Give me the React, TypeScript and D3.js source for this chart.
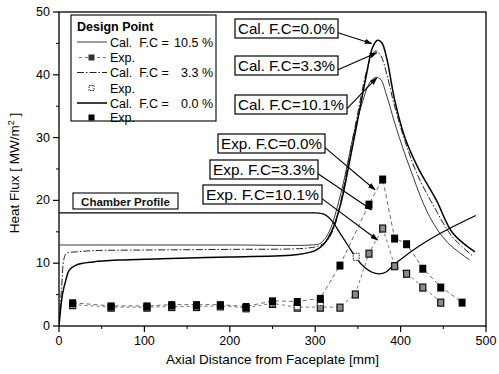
import React from "react";
import * as d3 from "d3";

// ---- data ----
const xTickValues = [0, 100, 200, 300, 400, 500];
const yTickValues = [0, 10, 20, 30, 40, 50];

// chamber contour (scaled to the heat-flux axis)
const profileX = [0, 300, 308, 315, 321, 329, 338, 348, 358, 366, 375, 383, 391, 400, 488];
const profileY = [18, 18, 17.9, 17.4, 16.5, 14.8, 12.9, 10.8, 9.3, 8.6, 8.3, 8.6, 9.6, 10.6, 17.6];

// calculated heat flux, F.C = 10.5 %
const cal105X = [0, 100, 200, 295, 305, 312, 318, 325, 335, 345, 355, 364, 371, 377, 383, 395, 410, 434, 455, 481];
const cal105Y = [12.9, 12.9, 12.9, 12.9, 13.1, 14.0, 15.5, 18.5, 24, 30.5, 35.5, 38.8, 39.6, 39.2, 37, 31.5, 25.5, 17.4, 13.3, 10.5];

// calculated heat flux, F.C = 3.3 %
const cal33X = [0, 3, 6, 9, 20, 40, 100, 200, 290, 305, 315, 323, 331, 340, 350, 359, 366, 371, 377, 384, 392, 405, 420, 440, 460, 484];
const cal33Y = [0.5, 6, 10.8, 11.6, 11.8, 12.0, 12.1, 12.2, 12.4, 12.8, 13.8, 16.0, 20.5, 27, 34, 40, 43, 43.8, 43, 40, 35.5, 29.5, 24, 18.8, 14.3, 11.2];

// calculated heat flux, F.C = 0.0 %
const cal00X = [0, 4, 8, 12, 20, 40, 70, 120, 200, 280, 300, 310, 320, 330, 340, 350, 360, 367, 373, 378, 384, 393, 405, 420, 442, 461, 487];
const cal00Y = [0, 5, 7.3, 8.9, 9.7, 10.2, 10.5, 10.7, 11.0, 11.4, 12.0, 13.0, 15.3, 19.5, 26, 33, 40, 44.3, 45.5, 45.1, 42.5, 36, 30, 25.3, 20, 14.8, 11.8];

// measured heat flux
const exp00X = [16, 61, 103, 132, 161, 189, 219, 250, 279, 306, 329, 363, 379, 393, 407, 426, 447, 472];
const exp00Y = [3.7, 3.2, 3.2, 3.4, 3.4, 3.4, 3.1, 4.0, 3.9, 4.4, 9.7, 19.4, 23.4, 14.0, 13.1, 9.2, 6.2, 3.8];

const exp105X = [16, 61, 103, 132, 161, 189, 219, 250, 279, 306, 329, 347, 363, 379, 393, 407, 426, 447];
const exp105Y = [3.4, 3.0, 3.0, 3.1, 3.1, 3.2, 2.9, 3.6, 3.0, 3.0, 3.0, 5.1, 11.6, 15.6, 9.6, 8.4, 6.2, 3.8];

const exp33X = [16, 61, 103, 132, 161, 189, 219, 250, 279, 306, 348];
const exp33Y = [3.5, 3.1, 3.1, 3.3, 3.3, 3.3, 3.0, 3.8, 3.3, 3.9, 11.1];

// callouts: text and the (mm, MW/m2) point the arrow points to
const calloutText = ["Cal. F.C=0.0%", "Cal. F.C=3.3%", "Cal. F.C=10.1%", "Exp. F.C=0.0%", "Exp. F.C=3.3%", "Exp. F.C=10.1%"];
const calloutTargetX = [366, 372, 372, 370, 366, 373];
const calloutTargetY = [45.0, 43.5, 39.5, 21.7, 18.5, 13.7];

const legendLabels = ["Cal.  F.C =", "Exp.", "Cal.  F.C =", "Exp.", "Cal.  F.C =", "Exp."];
const legendValues = ["10.5 %", "", "3.3 %", "", "0.0 %", ""];

// ---- layout ----
const W = 499;
const H = 374;
const plot = { left: 59, right: 486, top: 12, bottom: 326 };
const FONT = "'Liberation Sans', Arial, Helvetica, sans-serif";

// box geometry of each callout: left, top, width, height (pixels)
const calloutBoxes = [
  [235, 19, 103, 19],
  [235, 56, 103, 19],
  [235, 95, 112, 19],
  [218, 134, 107, 19],
  [210, 160, 108, 19],
  [203, 185, 119, 19],
];

const toPts = (xs: number[], ys: number[]) => xs.map((v, i) => [v, ys[i]] as [number, number]);

export default function App() {
  const x = d3.scaleLinear().domain([0, 500]).range([plot.left, plot.right]);
  const y = d3.scaleLinear().domain([0, 50]).range([plot.bottom, plot.top]);

  const smooth = d3
    .line<[number, number]>()
    .x((d) => x(d[0]))
    .y((d) => y(d[1]))
    .curve(d3.curveCatmullRom.alpha(0.5));
  const mono = d3
    .line<[number, number]>()
    .x((d) => x(d[0]))
    .y((d) => y(d[1]))
    .curve(d3.curveMonotoneX);
  const straight = d3
    .line<[number, number]>()
    .x((d) => x(d[0]))
    .y((d) => y(d[1]));

  const xMinor = d3.range(50, 500, 100);
  const yMinor = d3.range(5, 50, 10);

  const legendRows = [42, 57.5, 72.5, 88, 103, 117.5];

  const sq = (cx: number, cy: number, s: number, props: any, key: string) => (
    <rect key={key} x={cx - s / 2} y={cy - s / 2} width={s} height={s + 1} {...props} />
  );

  return (
    <svg
      width={W}
      height={H}
      style={{ position: "absolute", left: 0, top: 0, background: "#fff" }}
      fontFamily={FONT}
    >
      <defs>
        <marker id="arrowHead" viewBox="0 0 10 10" refX="9" refY="5" markerWidth="7" markerHeight="7" orient="auto">
          <path d="M0,1.5 L10,5 L0,8.5 Z" fill="#000" />
        </marker>
        <clipPath id="plotClip">
          <rect x={plot.left} y={plot.top} width={plot.right - plot.left} height={plot.bottom - plot.top} />
        </clipPath>
      </defs>

      {/* frame */}
      <rect
        x={plot.left}
        y={plot.top}
        width={plot.right - plot.left}
        height={plot.bottom - plot.top}
        fill="none"
        stroke="#000"
        strokeWidth={1.3}
      />

      {/* x ticks */}
      {xTickValues.map((t) => (
        <g key={"xt" + t}>
          <line x1={x(t)} x2={x(t)} y1={plot.bottom} y2={plot.bottom + 6} stroke="#000" strokeWidth={1.2} />
          <text x={x(t)} y={plot.bottom + 19} fontSize={12.5} textAnchor="middle">
            {t}
          </text>
        </g>
      ))}
      {xMinor.map((t) => (
        <line key={"xm" + t} x1={x(t)} x2={x(t)} y1={plot.bottom} y2={plot.bottom + 3} stroke="#000" strokeWidth={1} />
      ))}

      {/* y ticks */}
      {yTickValues.map((t) => (
        <g key={"yt" + t}>
          <line x1={plot.left - 6} x2={plot.left} y1={y(t)} y2={y(t)} stroke="#000" strokeWidth={1.2} />
          <text x={plot.left - 9} y={y(t) + 4} fontSize={12.5} textAnchor="end">
            {t}
          </text>
        </g>
      ))}
      {yMinor.map((t) => (
        <line key={"ym" + t} x1={plot.left - 3} x2={plot.left} y1={y(t)} y2={y(t)} stroke="#000" strokeWidth={1} />
      ))}

      {/* axis titles */}
      <text x={(plot.left + plot.right) / 2} y={364} fontSize={13.5} textAnchor="middle">
        Axial Distance from Faceplate [mm]
      </text>
      <text transform={`translate(19,${(plot.top + plot.bottom) / 2 + 4}) rotate(-90)`} fontSize={13.5} textAnchor="middle">
        Heat Flux [ MW/m
        <tspan dy={-5} fontSize={9}>
          2
        </tspan>
        <tspan dy={5}> ]</tspan>
      </text>

      <g clipPath="url(#plotClip)">
        {/* chamber contour */}
        <path d={mono(toPts(profileX, profileY)) || ""} fill="none" stroke="#000" strokeWidth={1.3} />

        {/* calculated curves */}
        <path d={smooth(toPts(cal105X, cal105Y)) || ""} fill="none" stroke="#222" strokeWidth={0.9} />
        <path
          d={smooth(toPts(cal33X, cal33Y)) || ""}
          fill="none"
          stroke="#222"
          strokeWidth={1}
          strokeDasharray="7,2,1.5,2"
        />
        <path d={smooth(toPts(cal00X, cal00Y)) || ""} fill="none" stroke="#000" strokeWidth={1.5} />

        {/* measured series connections */}
        <path
          d={straight(toPts(exp105X, exp105Y)) || ""}
          fill="none"
          stroke="#555"
          strokeWidth={0.8}
          strokeDasharray="3,3"
        />
        <path
          d={straight(toPts(exp00X, exp00Y)) || ""}
          fill="none"
          stroke="#444"
          strokeWidth={0.8}
          strokeDasharray="4,3"
        />

        {/* measured points */}
        {exp105X.map((v, i) =>
          sq(x(v), y(exp105Y[i]), 6, { fill: "#8a8a8a", stroke: "#111", strokeWidth: 1.2 }, "e105" + i)
        )}
        {exp33X.map((v, i) =>
          sq(x(v), y(exp33Y[i]), 6, { fill: "#fff", stroke: "#222", strokeWidth: 1, strokeDasharray: "1.5,1" }, "e33" + i)
        )}
        {exp00X.map((v, i) => sq(x(v), y(exp00Y[i]), 7, { fill: "#000" }, "e00" + i))}
      </g>

      {/* callouts */}
      {calloutText.map((t, i) => {
        const [bx, by, bw, bh] = calloutBoxes[i];
        const tx = x(calloutTargetX[i]);
        const ty = y(calloutTargetY[i]);
        const sx = bx + bw;
        const sy = by + bh * 0.72;
        return (
          <g key={"co" + i}>
            <line x1={sx} y1={sy} x2={tx} y2={ty} stroke="#000" strokeWidth={1.1} markerEnd="url(#arrowHead)" />
            <rect x={bx} y={by} width={bw} height={bh} fill="#fff" stroke="#000" strokeWidth={1.2} />
            <text x={bx + bw / 2} y={by + bh - 4} fontSize={15} textAnchor="middle" textLength={bw - 6} lengthAdjust="spacingAndGlyphs">
              {t}
            </text>
          </g>
        );
      })}

      {/* contour label */}
      <rect x={73} y={193} width={105} height={16} fill="#fff" stroke="#000" strokeWidth={1.1} />
      <text x={125.5} y={205.5} fontSize={11.5} fontWeight="bold" textAnchor="middle" fill="#111">
        Chamber Profile
      </text>

      {/* legend */}
      <rect x={71} y={15} width={145} height={106} fill="#fff" stroke="#000" strokeWidth={1.1} />
      <text x={77} y={31} fontSize={12.5} fontWeight="bold">
        Design Point
      </text>
      {legendRows.map((ry, i) => (
        <g key={"lg" + i}>
          <text x={110} y={ry + 4.5} fontSize={12.5} style={{ whiteSpace: "pre" }}>
            {legendLabels[i]}
          </text>
          {legendValues[i] && (
            <text x={213} y={ry + 4.5} fontSize={12.5} textAnchor="end">
              {legendValues[i]}
            </text>
          )}
        </g>
      ))}
      {/* legend samples */}
      <line x1={77} x2={107} y1={legendRows[0]} y2={legendRows[0]} stroke="#222" strokeWidth={0.9} />
      <line x1={79} x2={106} y1={legendRows[1]} y2={legendRows[1]} stroke="#555" strokeWidth={0.8} strokeDasharray="3,3" />
      <rect x={88.5} y={legendRows[1] - 3} width={6} height={6} fill="#333" />
      <line
        x1={77}
        x2={107}
        y1={legendRows[2]}
        y2={legendRows[2]}
        stroke="#222"
        strokeWidth={1}
        strokeDasharray="7,2,1.5,2"
      />
      <rect
        x={89}
        y={legendRows[3] - 2.5}
        width={5}
        height={5}
        fill="#fff"
        stroke="#222"
        strokeWidth={1}
        strokeDasharray="1.5,1"
      />
      <line x1={77} x2={107} y1={legendRows[4]} y2={legendRows[4]} stroke="#000" strokeWidth={1.5} />
      <rect x={88.5} y={legendRows[5] - 3} width={6} height={6} fill="#000" />
    </svg>
  );
}
